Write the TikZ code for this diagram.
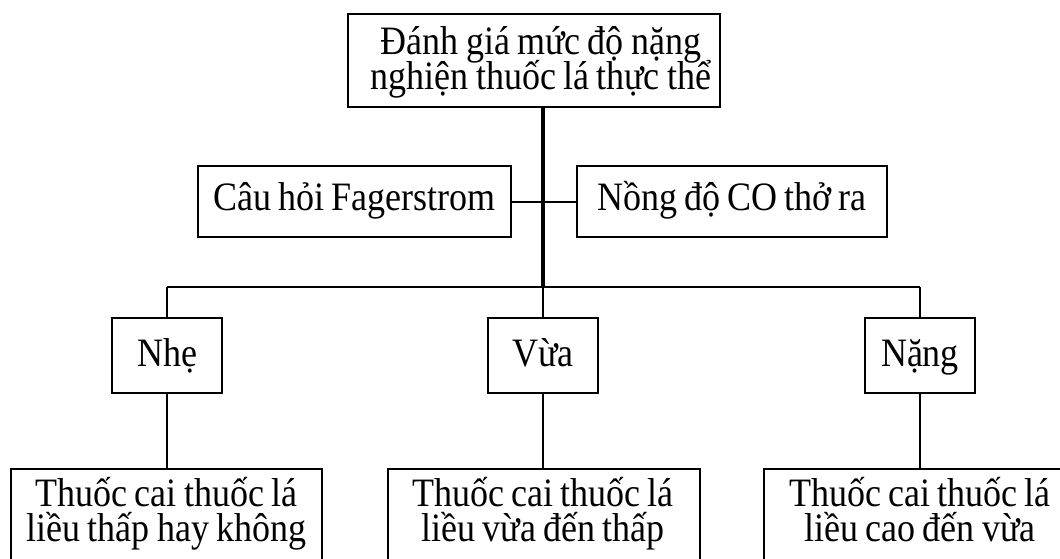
\documentclass[tikz,border=0pt]{standalone}
\usepackage{fontspec}
\setmainfont{Liberation Serif}
\usepackage{graphicx}
% slightly tall lettering used throughout the chart
\newcommand\tallt[1]{\scalebox{1}[1.12]{#1}}
% two centred lines at a fixed line distance; baseline = first line
\newcommand\twol[2]{\tallt{\vtop{\baselineskip=31.5pt\lineskiplimit=-100pt
  \lineskip=0pt\halign{\hfil##\hfil\cr#1\cr#2\cr}}}}
\begin{document}
\begin{tikzpicture}[x=1pt,y=-1pt,
  every node/.style={font={\fontsize{36}{30}\selectfont\spaceskip=0.2em plus 0.05em\relax},
    inner sep=0pt},
  box/.style={draw, line width=2.5pt},
  plain/.style={draw=none},
  link/.style={line width=2pt},
  spinel/.style={line width=3.5pt},
  midbox/.style={box, minimum height=71, text height=26pt, text depth=9pt},
  levelbox/.style={box, minimum width=110, minimum height=75, text height=28pt, text depth=7pt}]
\useasboundingbox (0,0) rectangle (1060,558);
\clip (0,0) rectangle (1060,558);

% root
\node[box, minimum width=372, minimum height=93, text height=24pt, text depth=36pt] (root)
  at (534,60.5) {\hspace*{14pt}\twol{Đánh giá mức độ nặng}{nghiện thuốc lá thực thể}};

% assessment tools
\node[midbox, minimum width=313] (fag) at (354.5,201.5) {\tallt{Câu hỏi Fagerstrom}};
\node[midbox, minimum width=310] (co) at (732,201.5) {\tallt{Nồng độ CO thở ra}};

% severity levels
\node[levelbox] (nhe) at (167,355.5) {\tallt{Nhẹ}};
\node[levelbox] (vua) at (543,355.5) {\tallt{Vừa}};
\node[levelbox] (nang) at (920,355.5) {\tallt{Nặng}};

% treatment boxes (frames run past the lower edge)
\node[box, anchor=north, minimum width=311, minimum height=110] (r1) at (166.5,467.5) {};
\node[box, anchor=north, minimum width=312, minimum height=110] (r2) at (544,467.5) {};
\node[box, anchor=north, minimum width=312, minimum height=110] (r3) at (920,467.5) {};
\node[plain, anchor=base] (t1) at (166.5,506) {\twol{Thuốc cai thuốc lá}{liều thấp hay không}};
\node[plain, anchor=base] (t2) at (543,506) {\twol{Thuốc cai thuốc lá}{liều vừa đến thấp}};
\node[plain, anchor=base] (t3) at (920,506) {\twol{Thuốc cai thuốc lá}{liều cao đến vừa}};

% connectors
\coordinate (hub) at (543,287);
\draw[spinel] (root.south -| hub) -- (hub);
\draw[link] (fag.east) -- (co.west);
\draw[link] (nhe.north |- hub) -- (nang.north |- hub);
\draw[link] (nhe.north |- hub) -- (nhe.north);
\draw[link] (vua.north |- hub) -- (vua.north);
\draw[link] (nang.north |- hub) -- (nang.north);
\draw[link] (nhe.south) -- (nhe.south |- r1.north);
\draw[link] (vua.south) -- (vua.south |- r2.north);
\draw[link] (nang.south) -- (nang.south |- r3.north);
\end{tikzpicture}
\end{document}
